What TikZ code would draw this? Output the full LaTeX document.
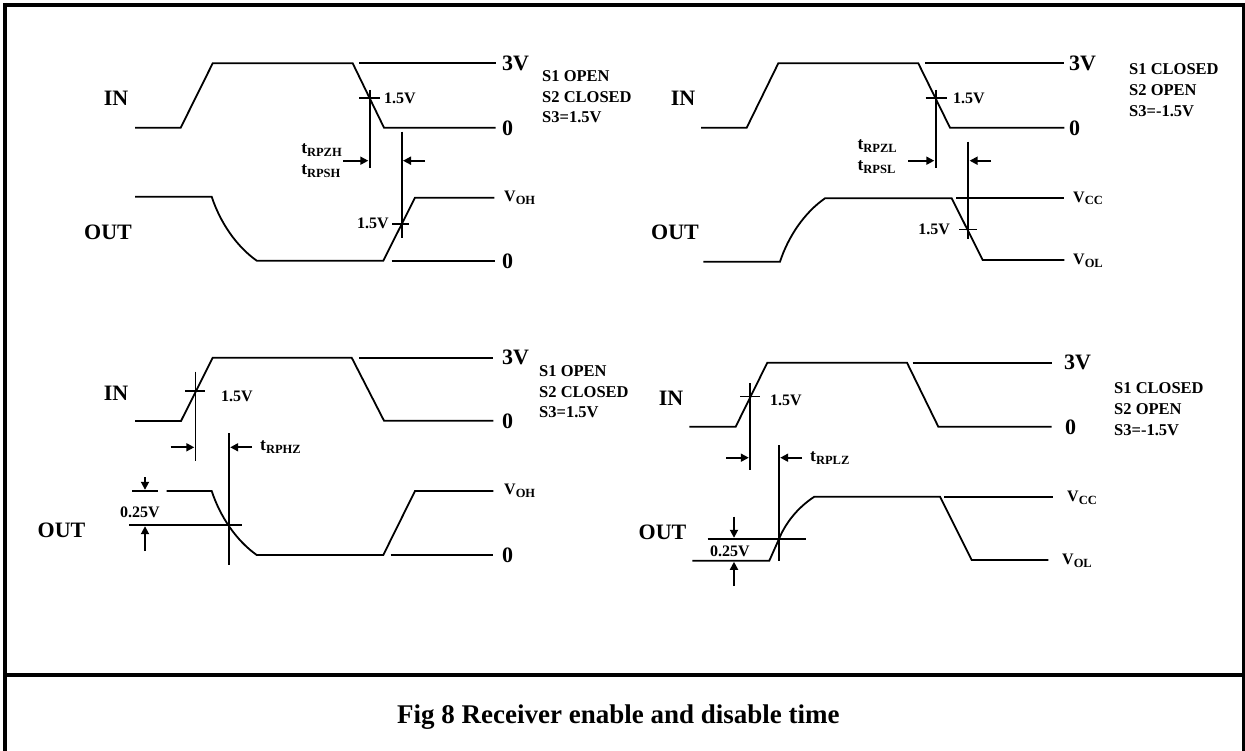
\documentclass[tikz,border=0pt]{standalone}
\usepackage{fontspec}
\setmainfont{Liberation Serif}
\usetikzlibrary{arrows.meta}
\newcommand\lowsub[1]{\raisebox{-0.35ex}{\fontsize{12.5}{12.5}\selectfont #1}}
\tikzset{
  sig/.style={line width=1.8pt, line join=miter},
  frm/.style={line width=4pt},
  arr/.style={line width=1.8pt, -{Triangle[length=8pt,width=8pt]}},
  big/.style={inner sep=0pt, font=\fontsize{22}{24}\selectfont\bfseries},
  mid/.style={inner sep=0pt, font=\fontsize{16}{18}\selectfont\bfseries},
  lvl/.style={inner sep=0pt, font=\fontsize{16}{18}\selectfont\bfseries},
  sw/.style={inner sep=0pt, align=left, anchor=west, font=\fontsize{16.5}{20.7}\selectfont\bfseries},
  tl/.style={inner sep=0pt, align=left, font=\fontsize{17.5}{21}\selectfont\bfseries},
  captxt/.style={inner sep=0pt, font=\fontsize{27}{30}\selectfont\bfseries}
}
\begin{document}
\begin{tikzpicture}[x=1pt,y=-1pt]
\useasboundingbox (0,0) rectangle (1245,751);
% frame
\draw[frm] (3,5) -- (1245,5);
\draw[frm] (5,3) -- (5,760);
\draw[frm] (1243.5,3) -- (1243.5,760);
\draw[frm] (5,675) -- (1243.5,675);
\node[captxt,anchor=base west] (caption) at (397,723) {Fig 8 Receiver enable and disable time};

% ================= Panel 1 =================
\node[big] (in1) at (116,98) {IN};
\node[big] (out1) at (108,232) {OUT};
\draw[sig] (135,127.7) -- (180.7,127.7) -- (212.7,63.3) -- (352.7,63.3) -- (384,127.7) -- (495.7,127.7);
\draw[sig] (359,63.3) -- (495.7,63.3);
\node[big,anchor=west] (v3a) at (502,63.3) {3V};
\node[big,anchor=west] (z1a) at (502,128) {0};
\draw[sig] (359,98.3) -- (380,98.3);
\draw[sig] (369.7,90) -- (369.7,168.3);
\node[mid,anchor=west] (h1a) at (384,98.3) {1.5V};
\draw[sig] (401.7,131.7) -- (401.7,238.3);
\coordinate (a1s) at (343,160.7); \coordinate (a1e) at (368.3,160.7);
\coordinate (a1t) at (425,160.7); \coordinate (a1f) at (403,160.7);
\draw[arr] (a1s) -- (a1e);
\draw[arr] (a1t) -- (a1f);
\node[tl,anchor=east] (t1) at (342,161) {t\lowsub{RPZH}\\t\lowsub{RPSH}};
\draw[sig] (135,196.7) -- (211.7,196.7) .. controls (220,222) and (236,246) .. (256.7,260.7) -- (383.3,260.7) -- (415,197.7) -- (494.3,197.7);
\draw[sig] (391.7,261) -- (495,261);
\draw[sig] (392,224) -- (409,224);
\node[mid,anchor=east] (h1b) at (389,223) {1.5V};
\node[lvl,anchor=west] (voh1) at (504,197.7) {V\lowsub{OH}};
\node[big,anchor=west] (z1b) at (502,261) {0};
\node[sw] (s1) at (542,96.7) {S1 OPEN\\S2 CLOSED\\S3=1.5V};

% ================= Panel 2 =================
\node[big] (in2) at (683,98) {IN};
\node[big] (out2) at (675,232) {OUT};
\draw[sig] (701,127.7) -- (746.7,127.7) -- (778.3,63.3) -- (918.3,63.3) -- (950,127.7) -- (1064.3,127.7);
\draw[sig] (925,63.3) -- (1064.3,63.3);
\node[big,anchor=west] (v3b) at (1069,63.3) {3V};
\node[big,anchor=west] (z2a) at (1069,128) {0};
\draw[sig] (925.7,98.3) -- (946.7,98.3);
\draw[sig] (935.7,90) -- (935.7,168.3);
\node[mid,anchor=west] (h2a) at (953,98.3) {1.5V};
\draw[sig] (968.3,141.7) -- (968.3,239);
\coordinate (a2s) at (908.3,160.7); \coordinate (a2e) at (934.3,160.7);
\coordinate (a2t) at (991,160.7); \coordinate (a2f) at (969.6,160.7);
\draw[arr] (a2s) -- (a2e);
\draw[arr] (a2t) -- (a2f);
\node[tl,anchor=east] (t2) at (897,157) {t\lowsub{RPZL}\\t\lowsub{RPSL}};
\draw[sig] (703.3,261.7) -- (780,261.7) .. controls (788.3,236.5) and (804.3,212.7) .. (825,198.3) -- (951.7,198.3) -- (982.7,260) -- (1064.3,260);
\draw[sig] (956,197.7) -- (1064.3,197.7);
\draw[sig] (959,229.5) -- (977,229.5);
\node[mid,anchor=east] (h2b) at (950,229) {1.5V};
\node[lvl,anchor=west] (vcc2) at (1073,198.5) {V\lowsub{CC}};
\node[lvl,anchor=west] (vol2) at (1073,261) {V\lowsub{OL}};
\node[sw] (s2) at (1129,90) {S1 CLOSED\\S2 OPEN\\S3=-1.5V};

% ================= Panel 3 =================
\node[big] (in3) at (116,393) {IN};
\node[big] (out3) at (61.5,530) {OUT};
\draw[sig] (135,421) -- (181,421) -- (212.7,357.7) -- (351.7,357.7) -- (384,420.7) -- (493.3,420.7);
\draw[sig] (359.3,357.7) -- (493.3,357.7);
\node[big,anchor=west] (v3c) at (502,357.7) {3V};
\node[big,anchor=west] (z3a) at (502,421) {0};
\draw[sig] (185,390.7) -- (205,390.7);
\draw[sig] (195.5,371.7) -- (195.5,460.7);
\node[mid,anchor=west] (h3a) at (221,396.7) {1.5V};
\draw[sig] (229,433.3) -- (229,565);
\coordinate (a3s) at (170.7,447.3); \coordinate (a3e) at (194.3,447.3);
\coordinate (a3t) at (252,447.3); \coordinate (a3f) at (230.2,447.3);
\draw[arr] (a3s) -- (a3e);
\draw[arr] (a3t) -- (a3f);
\node[tl,anchor=west] (t3) at (260,447.3) {t\lowsub{RPHZ}};
\draw[sig] (132.3,491) -- (157.7,491);
\draw[sig] (166.7,491) -- (211.7,491) .. controls (220,516.3) and (236,540.3) .. (256.7,555) -- (383.3,555) -- (415,491) -- (493.3,491);
\draw[sig] (129.3,525) -- (241.7,525);
\draw[sig] (390.7,555) -- (493.3,555);
\node[big,anchor=west] (z3b) at (502,555) {0};
\node[lvl,anchor=west] (voh3) at (504,491) {V\lowsub{OH}};
\coordinate (d3s) at (145,477); \coordinate (d3e) at (145,489.8);
\coordinate (u3s) at (145,551); \coordinate (u3e) at (145,526.2);
\draw[arr] (d3s) -- (d3e);
\draw[arr] (u3s) -- (u3e);
\node[mid] (q3) at (140,512.7) {0.25V};
\node[sw] (s3) at (539,391.7) {S1 OPEN\\S2 CLOSED\\S3=1.5V};

% ================= Panel 4 =================
\node[big] (in4) at (671,398.3) {IN};
\node[big] (out4) at (662.5,532.3) {OUT};
\draw[sig] (689.3,426.7) -- (735.7,426.7) -- (767.3,362.7) -- (907,362.7) -- (938.3,426.7) -- (1051.7,426.7);
\draw[sig] (912.7,362.7) -- (1051.7,362.7);
\node[big,anchor=west] (v3d) at (1064,362.7) {3V};
\node[big,anchor=west] (z4a) at (1065,427) {0};
\draw[sig] (740,396.5) -- (760,396.5);
\draw[sig] (750,383) -- (750,470);
\node[mid,anchor=west] (h4a) at (770,400) {1.5V};
\draw[sig] (779,445) -- (779,560.7);
\coordinate (a4s) at (726,457.7); \coordinate (a4e) at (748.8,457.7);
\coordinate (a4t) at (802,457.7); \coordinate (a4f) at (780.2,457.7);
\draw[arr] (a4s) -- (a4e);
\draw[arr] (a4t) -- (a4f);
\node[tl,anchor=west] (t4) at (810,457.7) {t\lowsub{RPLZ}};
\draw[sig] (692.3,560.7) -- (769.3,560.7) -- (779,539) .. controls (785,524) and (797,508) .. (814.3,496.7) -- (940,496.7) -- (971.7,560) -- (1048.3,560);
\draw[sig] (944.3,496.7) -- (1052.7,496.7);
\draw[sig] (707.7,539) -- (805.7,539);
\coordinate (d4s) at (734,516.7); \coordinate (d4e) at (734,537.8);
\coordinate (u4s) at (734,586); \coordinate (u4e) at (734,561.8);
\draw[arr] (d4s) -- (d4e);
\draw[arr] (u4s) -- (u4e);
\node[mid] (q4) at (730,551.7) {0.25V};
\node[lvl,anchor=west] (vcc4) at (1067,498) {V\lowsub{CC}};
\node[lvl,anchor=west] (vol4) at (1062,561) {V\lowsub{OL}};
\node[sw] (s4) at (1114,409) {S1 CLOSED\\S2 OPEN\\S3=-1.5V};
\end{tikzpicture}
\end{document}
